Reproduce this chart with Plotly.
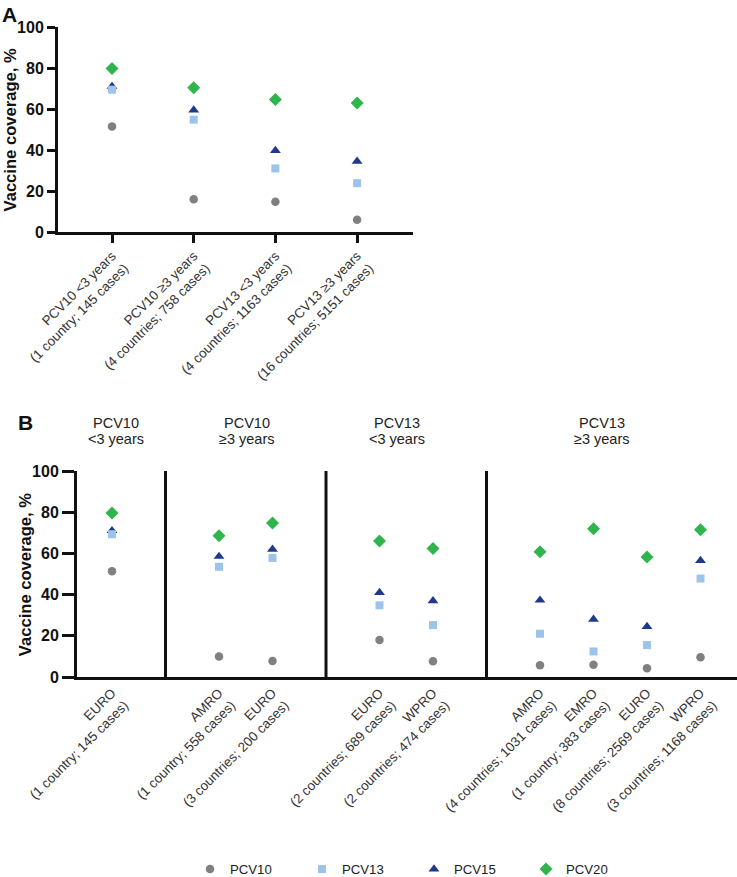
import plotly.graph_objects as go

W, H = 737, 877

# ---------- data ----------
series = ["PCV10", "PCV13", "PCV15", "PCV20"]
colors = {"PCV10": "#808080", "PCV13": "#9cc3ea", "PCV15": "#1f3a8c", "PCV20": "#2fb54b"}
symbols = {"PCV10": "circle", "PCV13": "square", "PCV15": "triangle-up", "PCV20": "diamond"}
sizes = {"PCV10": 8.5, "PCV13": 8, "PCV15": 9.5, "PCV20": 10}

cats_a = [
    "PCV10 <3 years<br>(1 country; 145 cases)",
    "PCV10 ≥3 years<br>(4 countries; 758 cases)",
    "PCV13 <3 years<br>(4 countries; 1163 cases)",
    "PCV13 ≥3 years<br>(16 countries; 5151 cases)",
]
vals_a = {
    "PCV10": [51.5, 16, 14.7, 6],
    "PCV13": [69.4, 54.8, 31, 23.8],
    "PCV15": [71, 59.5, 39.7, 34.5],
    "PCV20": [79.8, 70.4, 64.6, 62.9],
}

groups_b = [("PCV10", "<3 years"), ("PCV10", "≥3 years"), ("PCV13", "<3 years"), ("PCV13", "≥3 years")]
cats_b = [
    ["EURO<br>(1 country; 145 cases)"],
    ["AMRO<br>(1 country; 558 cases)", "EURO<br>(3 countries; 200 cases)"],
    ["EURO<br>(2 countries; 689 cases)", "WPRO<br>(2 countries; 474 cases)"],
    ["AMRO<br>(4 countries; 1031 cases)", "EMRO<br>(1 country; 383 cases)",
     "EURO<br>(8 countries; 2569 cases)", "WPRO<br>(3 countries; 1168 cases)"],
]
vals_b = {
    "PCV10": [51.3, 10, 7.8, 18, 7.6, 5.7, 6, 4.2, 9.6],
    "PCV13": [69.3, 53.5, 57.8, 34.8, 25.2, 21, 12.4, 15.5, 47.8],
    "PCV15": [71, 58.5, 62, 41, 37, 37.3, 28, 24.5, 56.5],
    "PCV20": [79.6, 68.6, 74.7, 66, 62.4, 60.8, 72, 58.3, 71.5],
}
y_ticks = [0, 20, 40, 60, 80, 100]
y_title = "Vaccine coverage, %"

# positions for panel B (one empty slot between groups)
pos_b, labels_b, bounds = [], [], []
p = 0
for gi, g in enumerate(cats_b):
    if gi > 0:
        bounds.append(p)
        p += 1
    for c in g:
        pos_b.append(p)
        labels_b.append(c)
        p += 1
pos_a = list(range(len(cats_a)))

fig = go.Figure()
draw_order = ["PCV10", "PCV15", "PCV13", "PCV20"]
for s in draw_order:
    common = dict(mode="markers", cliponaxis=False,
                  marker=dict(color=colors[s], symbol=symbols[s], size=sizes[s], line=dict(width=0)),
                  name=s, legendrank=series.index(s) + 1)
    fig.add_trace(go.Scatter(x=pos_a, y=vals_a[s], xaxis="x", yaxis="y", showlegend=False, **common))
    fig.add_trace(go.Scatter(x=pos_b, y=vals_b[s], xaxis="x2", yaxis="y2", showlegend=True, **common))

FONT = "Liberation Sans, Arial, sans-serif"
tickfont_y = dict(family=FONT, size=16, color="#111111", weight="bold")
title_font = dict(family=FONT, size=16.6, color="#111111", weight="bold")
cat_font = dict(family=FONT, size=13.4, color="#333333")

def px_x(a, b):
    return [a / W, b / W]

def px_y(top, bottom):
    return [1 - bottom / H, 1 - top / H]

def fx(px):
    return px / W

def fy(py):
    return 1 - py / H

unit_a = 81.7
unit_b = 53.5
axis_common = dict(showline=True, linewidth=3, linecolor="#111111", showgrid=False,
                   zeroline=False, automargin=False)
fig.update_layout(
    width=W, height=H, autosize=False,
    margin=dict(l=0, r=0, t=0, b=0, autoexpand=False),
    paper_bgcolor="white", plot_bgcolor="white",
    font=dict(family=FONT, color="#222222"),
    xaxis=dict(domain=px_x(58, 413), range=[(58 - 112) / unit_a, (413 - 112) / unit_a],
               tickmode="array", tickvals=pos_a, ticktext=cats_a, tickangle=-45,
               ticks="outside", ticklen=8, tickwidth=3, tickcolor="#111111",
               tickfont=cat_font, anchor="y", **axis_common),
    yaxis=dict(domain=px_y(27, 232), range=[0, 100], tickvals=y_ticks,
               ticks="outside", ticklen=8, tickwidth=3, tickcolor="#111111",
               tickfont=tickfont_y, anchor="x", **axis_common),
    xaxis2=dict(domain=px_x(77, 737), range=[(77 - 112) / unit_b, (737 - 112) / unit_b],
                tickmode="array", tickvals=pos_b, ticktext=labels_b, tickangle=-45,
                ticks="", tickfont=cat_font, anchor="y2", **axis_common),
    yaxis2=dict(domain=px_y(471, 677), range=[0, 100], tickvals=y_ticks,
                ticks="outside", ticklen=12, tickwidth=3, tickcolor="#111111",
                tickfont=tickfont_y, anchor="x2", **axis_common),
    legend=dict(orientation="h", x=190 / W, xanchor="left", y=-8 / H, yanchor="bottom",
                font=dict(family=FONT, size=13.2, color="#222222"),
                entrywidth=67, entrywidthmode="pixels", itemwidth=30,
                traceorder="normal", bgcolor="rgba(0,0,0,0)"),
)

# y-axis titles
for cx, cy in [(9.5, 130), (25.7, 574.5)]:
    fig.add_annotation(text=y_title, x=fx(cx), y=fy(cy), xref="paper", yref="paper",
                       textangle=-90, showarrow=False, xanchor="center", yanchor="middle",
                       font=title_font)

# group separators
for b in bounds:
    fig.add_shape(type="line", xref="x2", yref="y2", x0=b, x1=b, y0=0, y1=100,
                  line=dict(color="#111111", width=3))

# group headers
header_x = [115.7, 246.7, 397, 602]
for gx, (l1, l2) in zip(header_x, groups_b):
    for txt, yy in [(l1, 423), (l2, 439.5)]:
        fig.add_annotation(text=txt, x=fx(gx), y=fy(yy), xref="paper", yref="paper",
                           showarrow=False, xanchor="center", yanchor="middle",
                           font=dict(family=FONT, size=14.5, color="#222222"))

# panel letters
fig.add_annotation(text="<b>A</b>", x=fx(9.5), y=fy(14), xref="paper", yref="paper",
                   showarrow=False, xanchor="center", yanchor="middle",
                   font=dict(family=FONT, size=21, color="#111111"))
fig.add_annotation(text="<b>B</b>", x=fx(25.5), y=fy(422.5), xref="paper", yref="paper",
                   showarrow=False, xanchor="center", yanchor="middle",
                   font=dict(family=FONT, size=21, color="#111111"))

fig.write_html("out.html", config={"displayModeBar": False},
               post_script="document.body.style.margin='0';document.body.style.overflow='hidden';")
